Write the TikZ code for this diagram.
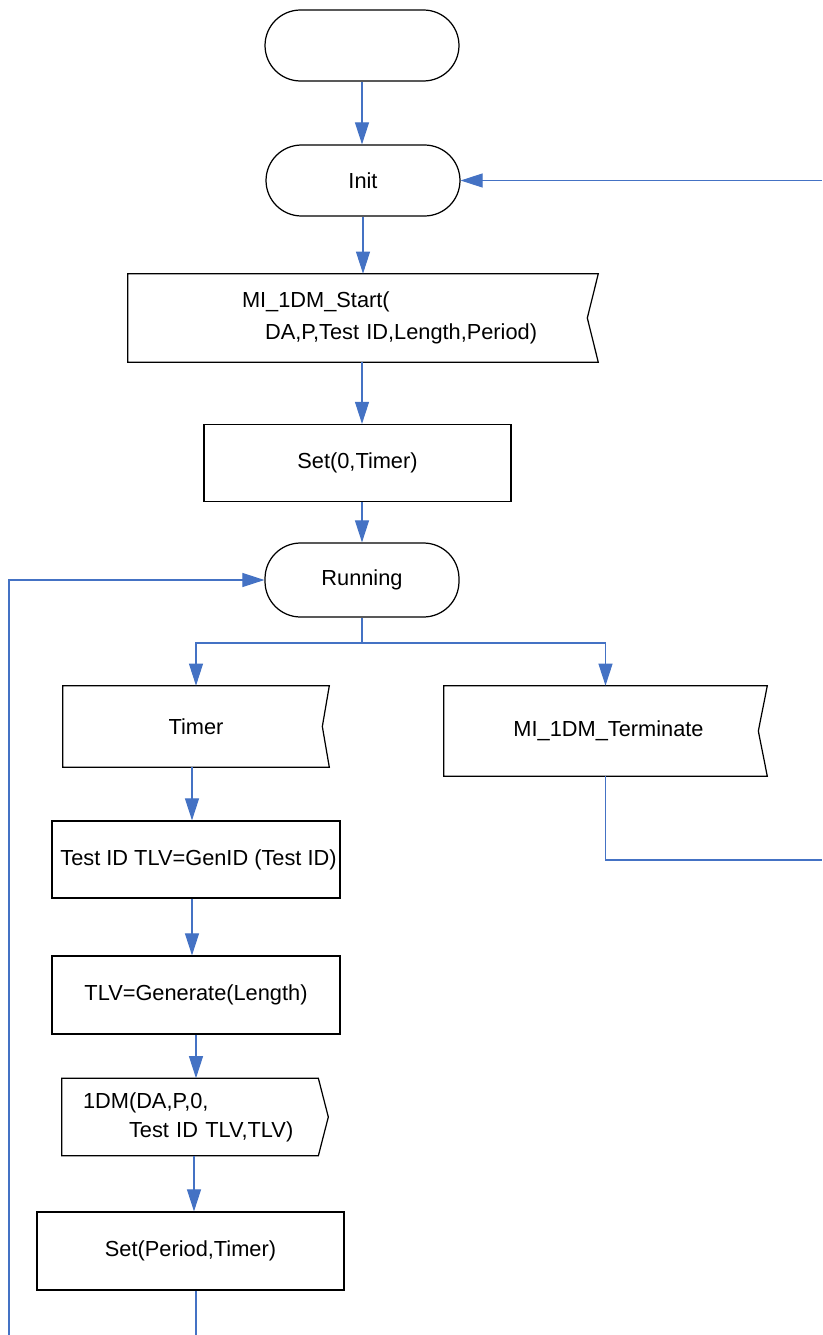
\documentclass[tikz,border=0pt]{standalone}
\usepackage{fontspec}
\setmainfont{Liberation Sans}
\usepackage{tikz}
\usetikzlibrary{arrows.meta,calc}
\usepackage{xcolor}
\definecolor{flowc}{HTML}{4472C4}

\begin{document}
\begin{tikzpicture}[x=0.02cm, y=-0.02cm, font=\fontsize{12.4}{18}\selectfont,
  flowl/.style={draw=flowc, line width=0.6pt},
  flowa/.style={flowl, -{Triangle[length=0.44cm, width=0.28cm]}},
  termc/.style={draw=black, line width=0.7pt, rounded corners=0.71cm,
    minimum width=3.88cm, minimum height=1.42cm, inner sep=0pt},
  procc/.style={draw=black, line width=0.7pt, inner sep=0pt},
  sigc/.style={inner sep=0pt, align=left},
  sigl/.style={draw=black, line width=0.7pt}]
  \useasboundingbox (0,0) rectangle (822,1335);
  \node[termc] (start) at (362,45.5) {};
  \node[termc] (init) at (363,180.5) {Init};
  \node[sigc, text width=9.4cm, minimum height=1.76cm] (mistart) at (363,318)
    {\hspace*{2.28cm}MI\_1DM\_Start(\\\hspace*{2.74cm}DA,P,Test ID,Length,Period)};
  \draw[sigl] (mistart.north west) -- (mistart.north east) -- ([xshift=-0.22cm]mistart.east)
    -- (mistart.south east) -- (mistart.south west) -- cycle;
  \node[procc, minimum width=6.14cm, minimum height=1.54cm] (set0) at (357.5,463) {Set(0,Timer)};
  \node[termc, minimum height=1.48cm] (running) at (362,580) {Running};
  \node[sigc, align=center, minimum width=5.32cm, minimum height=1.62cm] (timer) at (196,726.5) {Timer};
  \draw[sigl] (timer.north west) -- (timer.north east) -- ([xshift=-0.14cm]timer.east)
    -- (timer.south east) -- (timer.south west) -- cycle;
  \node[sigc, align=center, minimum width=6.46cm, minimum height=1.8cm] (term) at (605.5,731)
    {\hspace*{0.12cm}MI\_1DM\_Terminate};
  \draw[sigl] (term.north west) -- (term.north east) -- ([xshift=-0.18cm]term.east)
    -- (term.south east) -- (term.south west) -- cycle;
  \node[procc, minimum width=5.76cm, minimum height=1.54cm] (testid) at (196,859.5) {\hspace*{0.1cm}Test ID TLV=GenID (Test ID)};
  \node[procc, minimum width=5.76cm, minimum height=1.56cm] (tlv) at (196,995) {TLV=Generate(Length)};
  \node[sigc, text width=5.32cm, minimum height=1.54cm, font=\fontsize{12.4}{16.5}\selectfont] (dm) at (195,1117)
    {\hspace*{0.42cm}1DM(DA,P,0,\\\hspace*{1.34cm}Test ID TLV,TLV)};
  \draw[sigl] (dm.north west) -- ([xshift=-0.2cm]dm.north east) -- (dm.east)
    -- ([xshift=-0.2cm]dm.south east) -- (dm.south west) -- cycle;
  \node[procc, minimum width=6.14cm, minimum height=1.56cm] (setp) at (190.5,1251) {Set(Period,Timer)};
  % loose ends at the picture's edges
  \coordinate (rin) at (822,180.5);
  \coordinate (rout) at (822,860);
  \coordinate (lin) at (9,1335);
  \coordinate (bot) at (196,1335);
  \coordinate (fork) at (362,643);
  \draw[flowa] (start.south) -- (start.south |- init.north);
  \draw[flowa] (rin) -- (init.east);
  \draw[flowa] (init.south) -- (init.south |- mistart.north);
  \draw[flowa] (mistart.south -| running) -- (running |- set0.north);
  \draw[flowa] (running |- set0.south) -- (running.north);
  \draw[flowl] (running.south) -- (fork);
  \draw[flowa] (fork) -| (timer.north);
  \draw[flowa] (fork) -| (term.north);
  \draw[flowl] (term.south) |- (rout);
  \draw[flowa] ([xshift=-0.08cm]timer.south) -- ([xshift=-0.08cm]testid.north);
  \draw[flowa] ([xshift=-0.08cm]testid.south) -- ([xshift=-0.08cm]tlv.north);
  \draw[flowa] (tlv.south) -- (tlv.south |- dm.north);
  \draw[flowa] ([xshift=-0.02cm]dm.south) -- ([xshift=-0.02cm]dm.south |- setp.north);
  \draw[flowl] (setp.south -| bot) -- (bot);
  \draw[flowa] (lin) |- (running.west);
\end{tikzpicture}
\end{document}
